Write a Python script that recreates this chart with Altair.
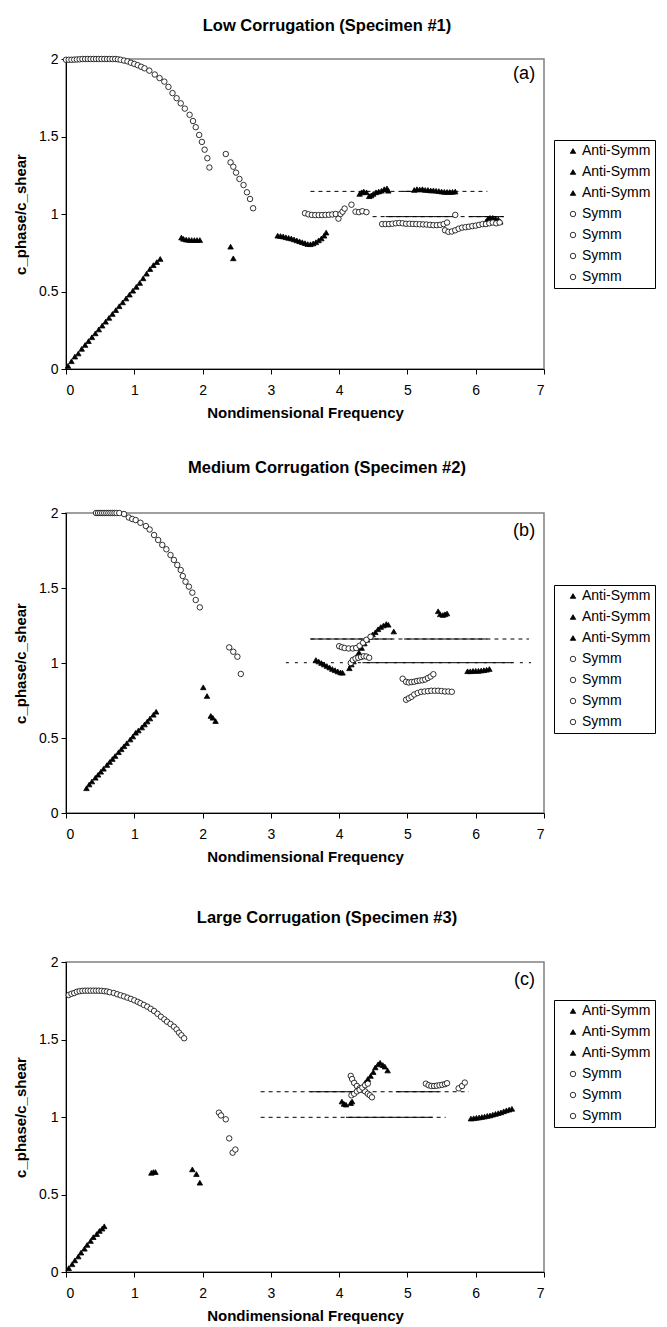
import altair as alt
import pandas as pd

# ---------------- Panel (a): Low Corrugation ----------------
a_A1_x = [0.03,0.08,0.13,0.18,0.23,0.28,0.33,0.38,0.43,0.48,0.53,0.58,0.63,0.68,0.73,0.78,0.83,0.88,0.93,0.98,1.03,1.08,1.13,1.18,1.23,1.28,1.33,1.38]
a_A1_y = [0.02,0.05,0.08,0.10,0.13,0.155,0.18,0.205,0.23,0.255,0.28,0.305,0.33,0.355,0.38,0.405,0.43,0.455,0.48,0.505,0.53,0.555,0.585,0.615,0.645,0.67,0.69,0.71]
a_A2_x = [1.69,1.72,1.76,1.80,1.84,1.88,1.92,1.96,2.41,2.45,3.10,3.14,3.18,3.22,3.26,3.30,3.34,3.38,3.42,3.46,3.50,3.54,3.58,3.62,3.66,3.70,3.74,3.78,3.81]
a_A2_y = [0.848,0.84,0.835,0.833,0.832,0.832,0.832,0.832,0.789,0.714,0.86,0.858,0.855,0.85,0.846,0.842,0.836,0.83,0.824,0.818,0.812,0.806,0.805,0.81,0.818,0.83,0.842,0.86,0.88]
a_A3_x = [4.30,4.33,4.36,4.40,4.44,4.47,4.50,4.54,4.58,4.62,4.66,4.70,4.72,5.10,5.14,5.18,5.22,5.26,5.30,5.34,5.38,5.42,5.46,5.50,5.54,5.58,5.62,5.66,5.70,6.15,6.18,6.21,6.25,6.29,6.33,6.36]
a_A3_y = [1.13,1.14,1.145,1.14,1.115,1.12,1.13,1.14,1.145,1.15,1.16,1.165,1.15,1.155,1.16,1.158,1.16,1.155,1.155,1.152,1.152,1.15,1.148,1.145,1.143,1.142,1.142,1.143,1.145,0.95,0.97,0.975,0.975,0.97,0.965,0.95]
a_S1_x = [0.00,0.04,0.08,0.12,0.16,0.20,0.24,0.28,0.32,0.36,0.40,0.44,0.48,0.52,0.56,0.60,0.64,0.68,0.72,0.76,0.80,0.85,0.90,0.95,1.00,1.05,1.10,1.15,1.22,1.30,1.37,1.44,1.50,1.56,1.62,1.68,1.74,1.81,1.86,1.90,1.95,1.99,2.03,2.07,2.10]
a_S1_y = [1.995,1.995,1.995,1.996,1.997,1.998,2.0,2.0,2.0,2.0,2.0,2.0,2.0,2.0,2.0,2.0,2.0,2.0,2.0,1.998,1.995,1.99,1.985,1.976,1.968,1.96,1.95,1.94,1.925,1.90,1.877,1.854,1.82,1.78,1.747,1.714,1.68,1.64,1.60,1.56,1.51,1.465,1.415,1.36,1.30]
a_S2_x = [2.34,2.41,2.45,2.49,2.54,2.60,2.65,2.695,2.74]
a_S2_y = [1.387,1.333,1.305,1.267,1.226,1.187,1.14,1.097,1.037]
a_S3_x = [3.50,3.55,3.60,3.65,3.70,3.75,3.80,3.85,3.90,3.95,3.99,4.02,4.05,4.08,4.18,4.24,4.29,4.34,4.40]
a_S3_y = [1.005,0.998,0.994,0.993,0.993,0.993,0.994,0.995,0.997,1.0,0.97,1.0,1.015,1.035,1.06,1.015,1.012,1.018,1.012]
a_S4_x = [4.63,4.68,4.73,4.78,4.83,4.88,4.93,4.98,5.03,5.08,5.13,5.18,5.23,5.28,5.33,5.38,5.43,5.48,5.53,5.58,5.70,5.55,5.60,5.65,5.70,5.75,5.80,5.85,5.90,5.95,6.00,6.05,6.10,6.15,6.20,6.25,6.30,6.35]
a_S4_y = [0.935,0.935,0.935,0.937,0.94,0.942,0.94,0.937,0.937,0.936,0.935,0.934,0.933,0.932,0.93,0.928,0.928,0.93,0.935,0.945,0.994,0.895,0.885,0.887,0.895,0.905,0.912,0.915,0.918,0.922,0.925,0.93,0.935,0.935,0.94,0.945,0.94,0.945]
a_line_y = [1.146, 1.146, 0.983, 0.983, 0.983]
a_line_x1 = [3.58, 4.92, 4.49, 4.68, 5.90]
a_line_x2 = [6.17, 5.70, 6.41, 5.68, 6.41]
a_line_style = ["dash", "solid", "dash", "solid", "solid"]

# ---------------- Panel (b): Medium Corrugation ----------------
b_A1_x = [0.30,0.34,0.38,0.43,0.47,0.51,0.55,0.60,0.64,0.68,0.72,0.77,0.81,0.85,0.89,0.94,0.98,1.02,1.06,1.11,1.15,1.19,1.23,1.28,1.32]
b_A1_y = [0.165,0.19,0.21,0.235,0.255,0.275,0.295,0.32,0.34,0.36,0.38,0.405,0.425,0.445,0.465,0.49,0.51,0.535,0.55,0.57,0.59,0.61,0.63,0.655,0.675]
b_A2_x = [2.01,2.065,2.12,2.15,2.19,3.66,3.70,3.74,3.78,3.82,3.86,3.90,3.94,3.98,4.02,4.05,4.15,4.18,4.21,4.25,4.29,4.33,4.37,4.41,4.45,4.49,4.53,4.57,4.61,4.65,4.69,4.72,4.80]
b_A2_y = [0.838,0.78,0.647,0.635,0.613,1.02,1.01,1.0,0.99,0.98,0.97,0.96,0.952,0.944,0.937,0.935,0.965,0.99,1.01,1.04,1.07,1.10,1.13,1.155,1.175,1.19,1.205,1.225,1.24,1.25,1.26,1.255,1.21]
b_A3_x = [5.45,5.48,5.52,5.55,5.58,5.88,5.92,5.96,6.00,6.04,6.08,6.12,6.16,6.20]
b_A3_y = [1.345,1.325,1.32,1.325,1.33,0.945,0.945,0.947,0.948,0.948,0.95,0.952,0.955,0.96]
b_S1_x = [0.44,0.47,0.50,0.53,0.56,0.59,0.62,0.65,0.68,0.71,0.74,0.78,0.85,0.92,0.97,1.02,1.09,1.17,1.225,1.29,1.35,1.41,1.47,1.53,1.58,1.63,1.68,1.71,1.75,1.80,1.85,1.90,1.96]
b_S1_y = [2.0,2.0,2.0,2.0,2.0,2.0,2.0,2.0,2.0,2.0,2.0,2.0,1.993,1.97,1.96,1.953,1.935,1.913,1.89,1.853,1.82,1.787,1.758,1.72,1.687,1.653,1.62,1.58,1.542,1.509,1.469,1.42,1.371]
b_S2_x = [2.39,2.45,2.51,2.56]
b_S2_y = [1.104,1.075,1.042,0.927]
b_S3_x = [4.00,4.04,4.08,4.14,4.20,4.25,4.30,4.35,4.40,4.46,4.17,4.20,4.24,4.28,4.32,4.36,4.40,4.44]
b_S3_y = [1.112,1.105,1.10,1.097,1.097,1.10,1.115,1.135,1.155,1.175,1.0,1.02,1.03,1.035,1.04,1.045,1.043,1.035]
b_S4_x = [4.93,4.98,5.02,5.06,5.10,5.14,5.18,5.22,5.26,5.30,5.34,5.38,4.98,5.02,5.06,5.10,5.15,5.20,5.25,5.30,5.35,5.40,5.45,5.50,5.55,5.60,5.65]
b_S4_y = [0.895,0.875,0.87,0.873,0.875,0.88,0.883,0.885,0.89,0.90,0.91,0.925,0.755,0.765,0.775,0.79,0.80,0.808,0.81,0.812,0.815,0.815,0.815,0.813,0.81,0.81,0.808]
b_line_y = [1.16, 1.16, 1.16, 1.002, 1.002]
b_line_x1 = [3.58, 3.58, 4.95, 3.22, 4.34]
b_line_x2 = [6.78, 4.78, 6.17, 6.81, 6.54]
b_line_style = ["dash", "solid", "solid", "dot", "solid"]

# ---------------- Panel (c): Large Corrugation ----------------
c_A1_x = [0.04,0.09,0.13,0.18,0.22,0.27,0.31,0.36,0.40,0.45,0.49,0.53,0.56]
c_A1_y = [0.025,0.05,0.075,0.10,0.125,0.15,0.175,0.20,0.225,0.245,0.265,0.28,0.295]
c_A2_x = [1.25,1.28,1.31,1.85,1.91,1.96,4.04,4.07,4.10,4.17,4.19,4.38,4.42,4.46,4.50,4.53,4.57,4.60,4.64,4.67,4.71]
c_A2_y = [0.64,0.645,0.645,0.662,0.632,0.576,1.10,1.085,1.08,1.09,1.10,1.22,1.245,1.265,1.29,1.32,1.34,1.35,1.335,1.325,1.30]
c_A3_x = [5.93,5.97,6.01,6.05,6.09,6.13,6.17,6.21,6.25,6.29,6.33,6.37,6.41,6.45,6.49,6.53]
c_A3_y = [0.99,0.992,0.995,0.997,1.0,1.003,1.007,1.01,1.015,1.02,1.025,1.03,1.037,1.043,1.048,1.053]
c_S1_x = [0.04,0.08,0.12,0.16,0.20,0.24,0.28,0.32,0.36,0.40,0.44,0.48,0.52,0.56,0.60,0.64,0.70,0.75,0.80,0.85,0.90,0.95,1.00,1.05,1.09,1.14,1.19,1.24,1.29,1.34,1.39,1.44,1.48,1.53,1.58,1.62,1.655,1.69,1.73]
c_S1_y = [1.787,1.795,1.80,1.808,1.812,1.814,1.815,1.815,1.815,1.815,1.815,1.815,1.814,1.812,1.81,1.805,1.80,1.792,1.785,1.778,1.77,1.762,1.753,1.743,1.734,1.723,1.712,1.698,1.684,1.666,1.647,1.63,1.615,1.60,1.583,1.565,1.544,1.527,1.508]
c_S2_x = [2.24,2.27,2.34,2.39,2.44,2.48,4.17,4.19,4.22,4.26,4.30,4.34,4.38,4.42,4.45,4.48]
c_S2_y = [1.028,1.01,0.985,0.862,0.77,0.79,1.265,1.245,1.22,1.20,1.185,1.175,1.165,1.15,1.14,1.127]
c_S3_x = [4.18,4.22,4.26,4.30,4.34,4.38,4.42,5.27,5.31,5.35,5.39,5.43,5.47,5.51,5.55,5.58,5.75,5.80,5.84]
c_S3_y = [1.14,1.15,1.165,1.175,1.19,1.205,1.215,1.215,1.205,1.20,1.20,1.202,1.205,1.208,1.212,1.218,1.185,1.20,1.222]
c_line_y = [1.163, 1.163, 1.163, 0.998, 0.998]
c_line_x1 = [2.85, 3.58, 4.83, 2.85, 4.10]
c_line_x2 = [5.90, 4.40, 5.46, 5.56, 5.37]
c_line_style = ["dash", "solid", "solid", "dash", "solid"]

titles = ["Low Corrugation (Specimen #1)", "Medium Corrugation (Specimen #2)", "Large Corrugation (Specimen #3)"]
panel_tags = ["(a)", "(b)", "(c)"]
tag_x = [6.87, 6.87, 6.87]
tag_y = [1.905, 1.88, 1.885]
x_ticks = [0, 1, 2, 3, 4, 5, 6, 7]
y_ticks = [0, 0.5, 1, 1.5, 2]

FONT = "Liberation Sans"
RES = dict(shape="independent", fill="independent", stroke="independent", size="independent")


def points_df(groups):
    rows = []
    for name, xs, ys in groups:
        for xv, yv in zip(xs, ys):
            rows.append({"x": xv, "y": yv, "series": name})
    return pd.DataFrame(rows)


def lines_df(ys, x1s, x2s, styles):
    return pd.DataFrame({"y": ys, "x1": x1s, "x2": x2s, "style": styles})


def panel(pts, lines, title, tag, tx, ty, height, title_offset, legend_y):
    series = sorted(pts["series"].unique(), key=lambda s: (s[0] != "A", s))
    shapes = ["triangle-up" if s.startswith("A") else "circle" for s in series]
    fills = ["black" if s.startswith("A") else "white" for s in series]
    strokes = ["black" for s in series]
    sizes = [30 if s.startswith("A") else 16 for s in series]
    leg = alt.Legend(
        title=None, orient="none", legendX=488, legendY=legend_y,
        labelExpr="indexof(datum.label, 'A') == 0 ? 'Anti-Symm' : 'Symm'",
        strokeColor="black", fillColor="white", padding=4,
        labelFont=FONT, labelFontSize=14, labelColor="black",
        rowPadding=7, symbolStrokeWidth=0.8, labelOffset=2, symbolOffset=8,
    )
    xenc = alt.X("x:Q", scale=alt.Scale(domain=[0, 7], nice=False),
                 axis=alt.Axis(values=x_ticks, format="d", title="Nondimensional Frequency", grid=False))
    yenc = alt.Y("y:Q", scale=alt.Scale(domain=[0, 2], nice=False),
                 axis=alt.Axis(values=y_ticks, format="~g", title="c_phase/c_shear", grid=False))
    p = alt.Chart(pts).mark_point(strokeWidth=0.8, opacity=1).encode(
        x=xenc, y=yenc,
        shape=alt.Shape("series:N", scale=alt.Scale(domain=series, range=shapes), legend=leg),
        fill=alt.Fill("series:N", scale=alt.Scale(domain=series, range=fills), legend=leg),
        stroke=alt.Stroke("series:N", scale=alt.Scale(domain=series, range=strokes), legend=leg),
        size=alt.Size("series:N", scale=alt.Scale(domain=series, range=sizes), legend=leg),
    )
    solid = alt.Chart(lines).transform_filter("datum.style == 'solid'").mark_rule(
        color="black", strokeWidth=1).encode(x="x1:Q", x2="x2:Q", y="y:Q")
    dash = alt.Chart(lines).transform_filter("datum.style == 'dash'").mark_rule(
        color="black", strokeWidth=1, strokeDash=[4, 4]).encode(x="x1:Q", x2="x2:Q", y="y:Q")
    dot = alt.Chart(lines).transform_filter("datum.style == 'dot'").mark_rule(
        color="black", strokeWidth=1, strokeDash=[3, 6]).encode(x="x1:Q", x2="x2:Q", y="y:Q")
    lab = alt.Chart(pd.DataFrame({"x": [tx], "y": [ty], "t": [tag]})).mark_text(
        font=FONT, fontSize=18, color="black", align="right").encode(x="x:Q", y="y:Q", text="t:N")
    return alt.layer(dash, dot, solid, p, lab).properties(
        width=478, height=height,
        title=alt.TitleParams(title, font=FONT, fontSize=16.5, fontWeight="bold", color="black",
                              anchor="middle", offset=title_offset, dx=22),
    )


pa = panel(points_df([("A1", a_A1_x, a_A1_y), ("A2", a_A2_x, a_A2_y), ("A3", a_A3_x, a_A3_y),
                      ("S1", a_S1_x, a_S1_y), ("S2", a_S2_x, a_S2_y), ("S3", a_S3_x, a_S3_y), ("S4", a_S4_x, a_S4_y)]),
           lines_df(a_line_y, a_line_x1, a_line_x2, a_line_style),
           titles[0], panel_tags[0], tag_x[0], tag_y[0], 310, 18, 81)
pb = panel(points_df([("A1", b_A1_x, b_A1_y), ("A2", b_A2_x, b_A2_y), ("A3", b_A3_x, b_A3_y),
                      ("S1", b_S1_x, b_S1_y), ("S2", b_S2_x, b_S2_y), ("S3", b_S3_x, b_S3_y), ("S4", b_S4_x, b_S4_y)]),
           lines_df(b_line_y, b_line_x1, b_line_x2, b_line_style),
           titles[1], panel_tags[1], tag_x[1], tag_y[1], 300, 30, 72)
pc = panel(points_df([("A1", c_A1_x, c_A1_y), ("A2", c_A2_x, c_A2_y), ("A3", c_A3_x, c_A3_y),
                      ("S1", c_S1_x, c_S1_y), ("S2", c_S2_x, c_S2_y), ("S3", c_S3_x, c_S3_y)]),
           lines_df(c_line_y, c_line_x1, c_line_x2, c_line_style),
           titles[2], panel_tags[2], tag_x[2], tag_y[2], 310, 29, 38)

top = alt.vconcat(pa, pb, spacing=37).resolve_scale(**RES).resolve_legend(**RES)

chart = alt.vconcat(top, pc, spacing=43).resolve_scale(**RES).resolve_legend(**RES).properties(
    padding={"left": 12, "top": 16, "right": 5, "bottom": 2},
    background="white",
).configure_view(
    stroke="#808080", strokeWidth=1.5
).configure_axis(
    domainColor="black", tickColor="black", labelColor="black", titleColor="black",
    labelFont=FONT, titleFont=FONT, labelFontSize=14, titleFontSize=15, titleFontWeight="bold",
    tickSize=5, domainWidth=1,
).configure_axisX(
    labelPadding=9, titlePadding=8
).configure_axisY(
    labelPadding=3, titlePadding=10
)

chart.save("out.html", embed_options={"renderer": "svg", "actions": False})
